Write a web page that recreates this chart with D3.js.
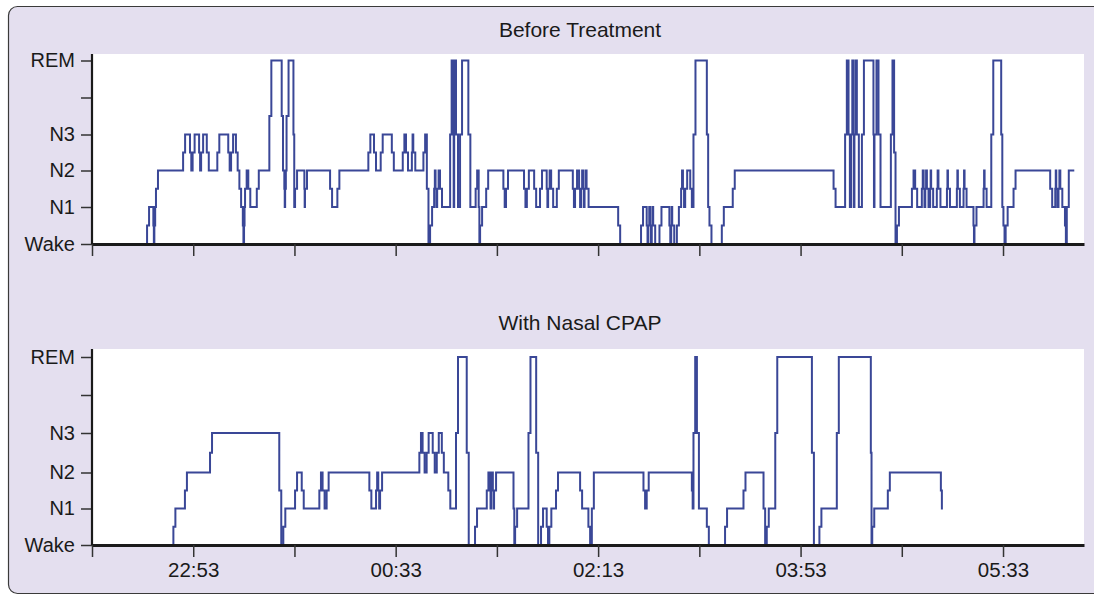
<!DOCTYPE html>
<html>
<head>
<meta charset="utf-8">
<title>Hypnogram before and with CPAP</title>
<script src="https://cdn.jsdelivr.net/npm/d3@7"></script>
<style>
body { margin: 0; background: #fff; }
text { font-family: "Liberation Sans", Arial, Helvetica, sans-serif; fill: #1a1a1a; }
</style>
</head>
<body>
<script>
// stage codes: 0 Wake, 1 N1, 2 N2, 3 N3, 5 REM (4 is an empty tick)
var stageLabels = ["Wake", "N1", "N2", "N3", "", "REM"];
var stageTicks = [0, 1, 2, 3, 4, 5];
// clock ticks every 50 min from 22:03, only every other one labelled
var tickMinutes = [0, 50, 100, 150, 200, 250, 300, 350, 400, 450];
var clockLabels = ["", "22:53", "", "00:33", "", "02:13", "", "03:53", "", "05:33"];

// minutes after 22:03 where each stage starts
var beforeMin = [0, 27.2, 30.3, 30.8, 31.6, 45.0, 48.4, 49.7, 52.9, 53.9,
  56.7, 61.9, 67.3, 68.7, 71.1, 72.8, 74.5, 75.1, 75.6, 77.2,
  81.4, 87.6, 93.7, 95.0, 95.4, 96.1, 99.5, 100.3, 104.9, 105.2,
  117.6, 121.2, 136.5, 139.3, 142.6, 148.1, 153.5, 155.1, 158.0, 158.7,
  163.7, 165.4, 167.0, 169.0, 169.7, 170.5, 171.9, 176.9, 178.4, 178.9,
  179.8, 181.8, 185.9, 189.5, 191.0, 191.7, 194.7, 203.2, 204.5, 213.4,
  214.8, 218.4, 221.3, 224.6, 225.3, 226.8, 229.6, 237.5, 238.6, 240.6,
  241.6, 242.6, 243.3, 244.3, 259.9, 271.2, 274.0, 274.8, 275.7, 276.5,
  277.2, 280.3, 285.2, 286.1, 286.6, 288.9, 291.0, 291.9, 293.0, 295.5,
  297.1, 303.7, 305.0, 311.1, 316.5, 366.3, 372.0, 373.7, 375.0, 376.1,
  376.6, 377.8, 380.3, 386.0, 386.5, 388.5, 394.6, 396.2, 397.6, 405.0,
  406.6, 409.9, 410.8, 411.6, 412.4, 414.0, 414.5, 417.3, 418.1, 422.3,
  422.8, 427.2, 427.7, 430.5, 431.0, 435.4, 435.9, 440.4, 440.9, 444.2,
  449.1, 450.2, 451.3, 455.2, 473.3, 475.8, 476.3, 477.4, 478.3, 480.6,
  481.5];
var beforeStage = [0, 1, 0, 1, 2, 3, 2, 3, 2, 3,
  2, 3, 2, 3, 2, 1, 0, 1, 2, 1,
  2, 5, 2, 1, 2, 5, 1, 2, 1, 2,
  1, 2, 3, 2, 3, 2, 3, 2, 3, 2,
  3, 0, 1, 2, 1, 2, 1, 5, 1, 5,
  1, 5, 1, 2, 0, 1, 2, 1, 2, 1,
  2, 1, 2, 1, 2, 1, 2, 1, 2, 1,
  2, 1, 2, 1, 0, 1, 0, 1, 0, 1,
  0, 1, 0, 1, 0, 1, 2, 1, 2, 1,
  5, 1, 0, 1, 2, 1, 5, 1, 5, 1,
  5, 1, 5, 1, 5, 1, 5, 0, 1, 2,
  1, 2, 1, 2, 1, 2, 1, 2, 1, 2,
  1, 2, 1, 2, 1, 0, 1, 2, 1, 5,
  1, 0, 1, 2, 1, 2, 1, 2, 1, 0,
  2];
var beforeEnd = 485.2;

var cpapMin = [0, 40.2, 45.9, 58.3, 92.5, 94.5, 100.3, 103.6, 112.3, 113.9,
  115.9, 137.0, 140.3, 141.4, 142.3, 161.7, 163.3, 165.3, 168.3, 170.3,
  172.8, 176.0, 179.8, 185.1, 189.2, 195.0, 196.6, 197.1, 198.0, 198.6,
  208.2, 209.0, 215.6, 219.4, 221.8, 224.6, 225.9, 229.2, 241.1, 245.2,
  246.9, 272.4, 274.0, 296.3, 297.1, 298.8, 303.7, 312.7, 321.8, 331.7,
  333.3, 337.5, 355.6, 359.3, 367.9, 384.7, 385.4, 393.1, 419.3];
var cpapStage = [0, 1, 2, 3, 0, 1, 2, 1, 2, 1,
  2, 1, 2, 1, 2, 3, 2, 3, 2, 3,
  2, 1, 5, 0, 1, 2, 1, 2, 1, 2,
  0, 1, 5, 0, 1, 0, 1, 2, 1, 0,
  2, 1, 2, 1, 5, 1, 0, 1, 2, 0,
  1, 5, 0, 1, 5, 0, 1, 2, 1];
var cpapEnd = 420.3;

var W = 1094, H = 595;
var svg = d3.select("body").append("svg")
    .attr("width", W)
    .attr("height", H);

svg.append("rect")
    .attr("x", 8.5).attr("y", 6.5)
    .attr("width", 1110).attr("height", 587)
    .attr("rx", 9)
    .attr("fill", "#e4dfef")
    .attr("stroke", "#3a3a3a")
    .attr("stroke-width", 1.2);

var x = d3.scaleLinear().domain([0, 490]).range([92, 1084]);

var panels = [
  { title: "Before Treatment", mins: beforeMin, stages: beforeStage, end: beforeEnd,
    top: 54, axisY: 244, titleY: 37, labelled: false,
    yRange: [244, 207, 170.5, 134.5, 60.5] },
  { title: "With Nasal CPAP", mins: cpapMin, stages: cpapStage, end: cpapEnd,
    top: 349, axisY: 545, titleY: 330, labelled: true,
    yRange: [545, 508.5, 472.5, 433, 357] }
];

// step line with a short notch halfway through every change of stage
function hypnoPath(mins, stages, end, y) {
  var p = d3.path();
  p.moveTo(x(mins[0]), y(stages[0]));
  for (var i = 1; i < mins.length; i++) {
    var xi = x(mins[i]);
    var nextX = i + 1 < mins.length ? x(mins[i + 1]) : x(end);
    var w = Math.max(0, Math.min(2, (nextX - xi) / 2));
    var mid = y((stages[i - 1] + stages[i]) / 2);
    p.lineTo(xi, y(stages[i - 1]));
    p.lineTo(xi, mid);
    p.lineTo(xi + w, mid);
    p.lineTo(xi + w, y(stages[i]));
  }
  p.lineTo(x(end), y(stages[stages.length - 1]));
  return p.toString();
}

panels.forEach(function(pn) {
  var y = d3.scaleLinear().domain([0, 1, 2, 3, 5]).range(pn.yRange);
  var g = svg.append("g");

  g.append("rect")
      .attr("x", 92).attr("y", pn.top)
      .attr("width", 1084 - 92).attr("height", pn.axisY - pn.top)
      .attr("fill", "#fff");

  g.append("text")
      .attr("x", 580).attr("y", pn.titleY)
      .attr("text-anchor", "middle")
      .style("font-size", "21px")
      .text(pn.title);

  g.append("path")
      .attr("d", hypnoPath(pn.mins, pn.stages, pn.end, y))
      .attr("fill", "none")
      .attr("stroke", "#3a4797")
      .attr("stroke-width", 2);

  var yAxis = d3.axisLeft(y)
      .tickValues(stageTicks)
      .tickSize(11)
      .tickPadding(6)
      .tickFormat(function(d) { return stageLabels[d]; });
  var ya = g.append("g").attr("transform", "translate(92,0)").call(yAxis);
  ya.select(".domain").remove();
  ya.selectAll("line").attr("stroke", "#333").attr("stroke-width", 1.5);
  ya.selectAll("text").style("font-size", "20px").attr("fill", "#1a1a1a");

  g.append("line")
      .attr("x1", 92).attr("x2", 92)
      .attr("y1", pn.top).attr("y2", pn.axisY)
      .attr("stroke", "#1a1a1a").attr("stroke-width", 2.2);

  var xAxis = d3.axisBottom(x)
      .tickValues(tickMinutes)
      .tickSize(12)
      .tickPadding(5)
      .tickSizeOuter(0)
      .tickFormat(function(d, i) { return pn.labelled ? clockLabels[i] : ""; });
  var xa = g.append("g").attr("transform", "translate(0," + pn.axisY + ")").call(xAxis);
  xa.select(".domain").attr("stroke", "#1a1a1a").attr("stroke-width", 3);
  xa.selectAll("line").attr("stroke", "#333").attr("stroke-width", 1.5);
  xa.selectAll("text").style("font-size", "20.5px").attr("fill", "#1a1a1a");
});
</script>
</body>
</html>
